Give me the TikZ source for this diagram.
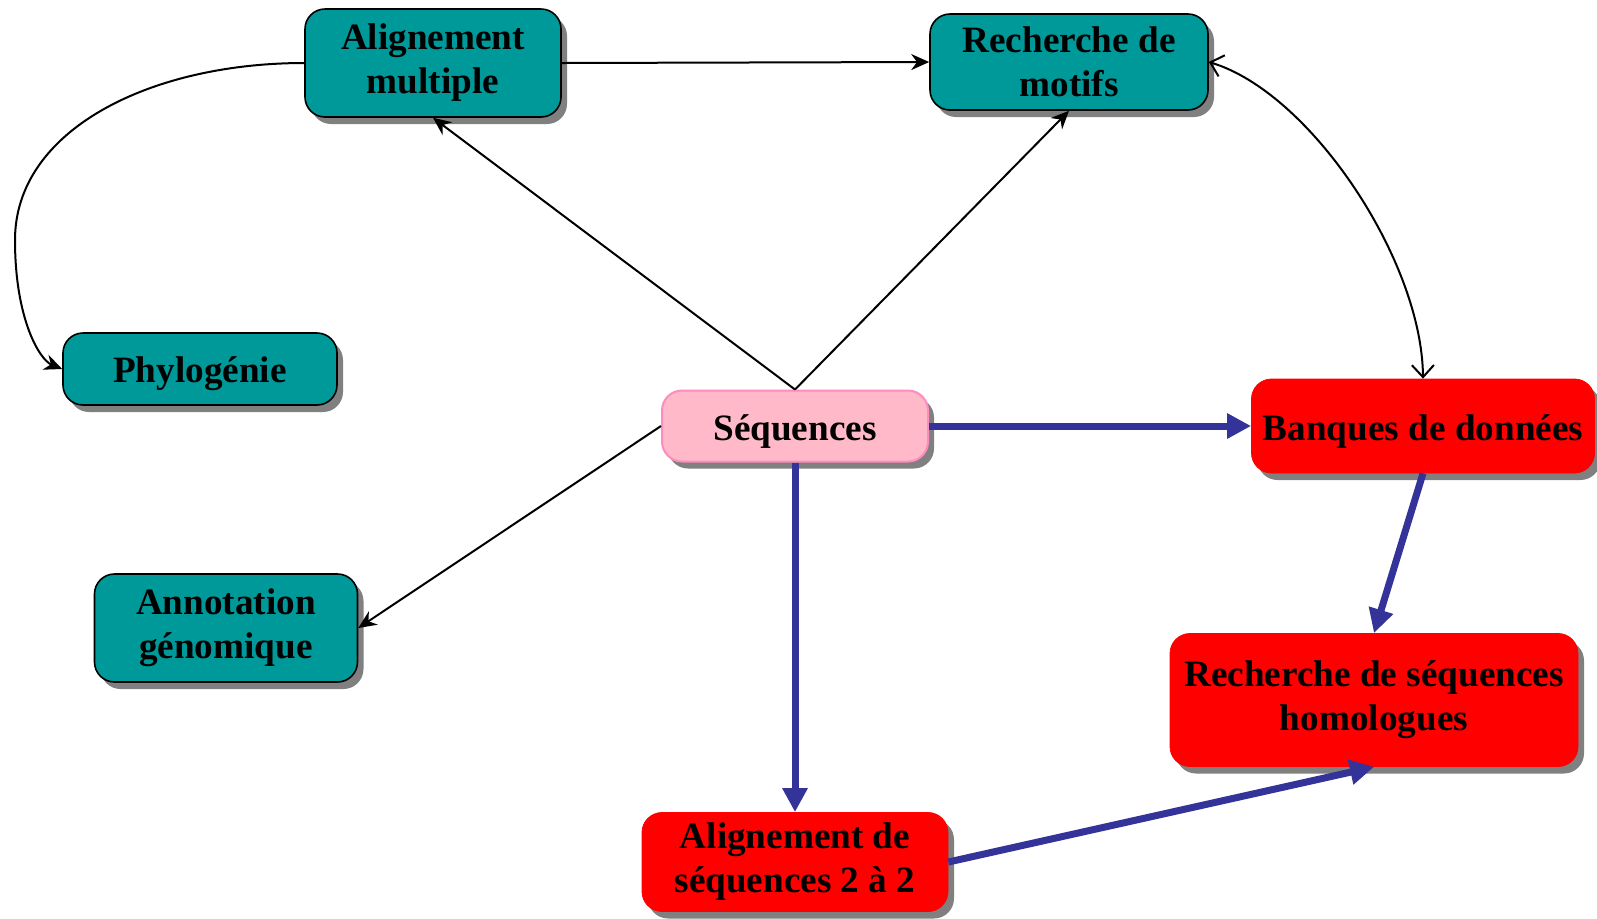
\documentclass[tikz,border=0pt]{standalone}
\usepackage{fontspec}
\setmainfont{Liberation Serif}
\usetikzlibrary{arrows.meta,shadows}
\definecolor{tealbox}{RGB}{0,153,153}
\definecolor{pinkfill}{RGB}{255,185,200}
\definecolor{pinkline}{RGB}{255,140,190}
\definecolor{arrowblue}{RGB}{51,51,153}
\definecolor{shadowgray}{RGB}{128,128,128}

\begin{document}
\begin{tikzpicture}[x=0.5pt,y=-0.5pt,
  box/.style={rounded corners=10pt, align=center, inner sep=0pt,
    font=\bfseries\fontsize{18.6}{22}\selectfont,
    execute at begin node={\rule{0pt}{18pt}},
    drop shadow={shadow xshift=3pt, shadow yshift=-3.5pt, fill=shadowgray, opacity=1}},
  tealnode/.style={box, fill=tealbox, draw=black, line width=0.8pt},
  rednode/.style={box, fill=red, draw=red},
  pinknode/.style={box, fill=pinkfill, draw=pinkline, line width=1pt},
  blk/.style={draw=black, line width=1pt, -{Stealth[length=9pt,width=8pt]}},
  dbl/.style={draw=black, line width=1pt,
    {Straight Barb[length=6pt,width=11pt]}-{Straight Barb[length=6pt,width=11pt]}},
  bluearrow/.style={draw=arrowblue, line width=3.5pt, -{Triangle[length=12pt,width=12pt]}}
]
\useasboundingbox (0,0) rectangle (1597,918);

% boxes
\node[tealnode, minimum width=128pt, minimum height=54pt] (am) at (433,63) {Alignement\\multiple};
\node[tealnode, minimum width=139pt, minimum height=48pt] (rm) at (1069,62) {Recherche de\\motifs};
\node[tealnode, minimum width=137pt, minimum height=36pt] (phy) at (200,369) {Phylogénie};
\node[tealnode, minimum width=131.5pt, minimum height=54pt] (ann) at (226,628) {Annotation\\génomique};
\node[pinknode, minimum width=133pt, minimum height=35.5pt] (seq) at (795,426) {Séquences};
\node[rednode, minimum width=171.5pt, minimum height=47pt] (bdd) at (1423,426) {Banques de données};
\node[rednode, minimum width=204pt, minimum height=66.5pt] (hom) at (1374,700) {Recherche de séquences\\homologues};
\node[rednode, minimum width=153pt, minimum height=49.5pt] (a22) at (795,862) {Alignement de\\séquences 2 à 2};

% black connectors
\draw[blk] (am.east) -- (rm.west);
\draw[blk] (seq.north) -- (am.south);
\draw[blk] (seq.north) -- (rm.south);
\draw[blk] (seq.west) -- (ann.east);
\draw[blk] (am.west) .. controls (150,63) and (15,130) .. (15,240)
                     .. controls (15,320) and (40,360) .. (phy.west);
\draw[dbl] (rm.east) .. controls (1310,92) and (1422,260) .. (bdd.north);

% blue connectors
\draw[bluearrow] (seq.east) -- (bdd.west);
\draw[bluearrow] (seq.south) -- (a22.north);
\draw[bluearrow] (bdd.south) -- (hom.north);
\draw[bluearrow] (a22.east) -- (hom.south);
\end{tikzpicture}
\end{document}
